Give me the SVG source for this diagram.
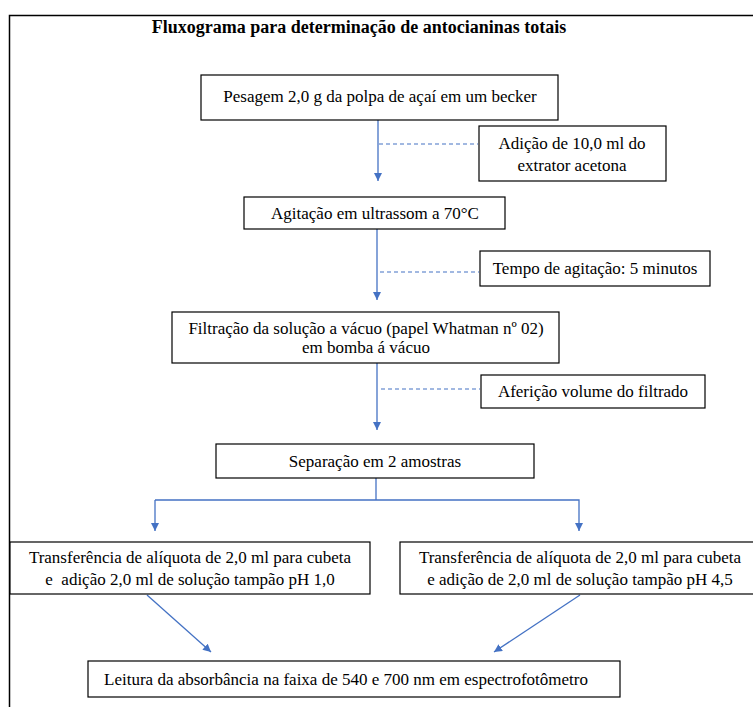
<svg xmlns="http://www.w3.org/2000/svg" width="753" height="707" viewBox="0 0 753 707" font-family="'Liberation Serif', 'Times New Roman', Times, 'DejaVu Serif', serif">
<style>
.box{fill:#fff;stroke:#000;stroke-width:1.2}
text{font-family:'Liberation Serif','Times New Roman',Times,'DejaVu Serif',serif}
.t{font-size:17px;fill:#000;text-anchor:middle;white-space:pre}
.title{font-size:18px;font-weight:bold;fill:#000;text-anchor:middle}
.c{fill:none;stroke:#4472C4;stroke-width:1.3}
.d{fill:none;stroke:#4472C4;stroke-width:1.1;stroke-dasharray:4 3}
</style>
<defs>
<marker id="ah" viewBox="0 0 10 10" refX="10" refY="5" markerWidth="8" markerHeight="8" markerUnits="userSpaceOnUse" orient="auto">
<path d="M0,0 L10,5 L0,10 z" fill="#4472C4"/>
</marker>
</defs>
<g id="frame">
<path d="M9.5,707 L9.5,15.5 L753,15.5" fill="none" stroke="#000" stroke-width="1.5"/>
<text class="title" x="359" y="33">Fluxograma para determinação de antocianinas totais</text>
</g>
<g id="connectors">
<path class="c" d="M378,120 L378,181" marker-end="url(#ah)"/>
<path class="d" d="M379,144 L478,144"/>
<path class="c" d="M377,229 L377,300" marker-end="url(#ah)"/>
<path class="d" d="M380,272 L479,272"/>
<path class="c" d="M377,363 L377,430" marker-end="url(#ah)"/>
<path class="d" d="M381,389 L480,389"/>
<path class="c" d="M376,478 L376,500"/>
<path class="c" d="M155,500 L579,500 L579,531" marker-end="url(#ah)"/>
<path class="c" d="M155,500 L155,531" marker-end="url(#ah)"/>
<path class="c" d="M147,595 L211,652" marker-end="url(#ah)"/>
<path class="c" d="M580,595 L494,652" marker-end="url(#ah)"/>
</g>
<g id="n1">
<rect class="box" x="201" y="75" width="357" height="45"/>
<text class="t" x="380" y="102">Pesagem 2,0 g da polpa de açaí em um becker</text>
</g>
<g id="n2">
<rect class="box" x="479" y="126" width="187" height="55"/>
<text class="t" x="572" y="149">Adição de 10,0 ml do</text>
<text class="t" x="572" y="171">extrator acetona</text>
</g>
<g id="n3">
<rect class="box" x="244" y="197" width="261" height="32"/>
<text class="t" x="375" y="219">Agitação em ultrassom a 70°C</text>
</g>
<g id="n4">
<rect class="box" x="480" y="251" width="230" height="35"/>
<text class="t" x="595" y="274">Tempo de agitação: 5 minutos</text>
</g>
<g id="n5">
<rect class="box" x="172" y="312" width="387" height="51"/>
<text class="t" x="366" y="334">Filtração da solução a vácuo (papel Whatman nº 02)</text>
<text class="t" x="366" y="353">em bomba á vácuo</text>
</g>
<g id="n6">
<rect class="box" x="481" y="375" width="224" height="33"/>
<text class="t" x="593" y="397">Aferição volume do filtrado</text>
</g>
<g id="n7">
<rect class="box" x="216" y="444" width="318" height="34"/>
<text class="t" x="375" y="467">Separação em 2 amostras</text>
</g>
<g id="n8">
<rect class="box" x="10" y="542" width="360" height="52"/>
<text class="t" x="190" y="563">Transferência de alíquota de 2,0 ml para cubeta</text>
<text class="t" x="190" y="585" xml:space="preserve">e  adição 2,0 ml de solução tampão pH 1,0</text>
</g>
<g id="n9">
<rect class="box" x="400" y="542" width="356" height="52"/>
<text class="t" x="580" y="563">Transferência de alíquota de 2,0 ml para cubeta</text>
<text class="t" x="580" y="585">e adição de 2,0 ml de solução tampão pH 4,5</text>
</g>
<g id="n10">
<rect class="box" x="88" y="661" width="532" height="36"/>
<text class="t" x="346" y="685">Leitura da absorbância na faixa de 540 e 700 nm em espectrofotômetro</text>
</g>
</svg>
